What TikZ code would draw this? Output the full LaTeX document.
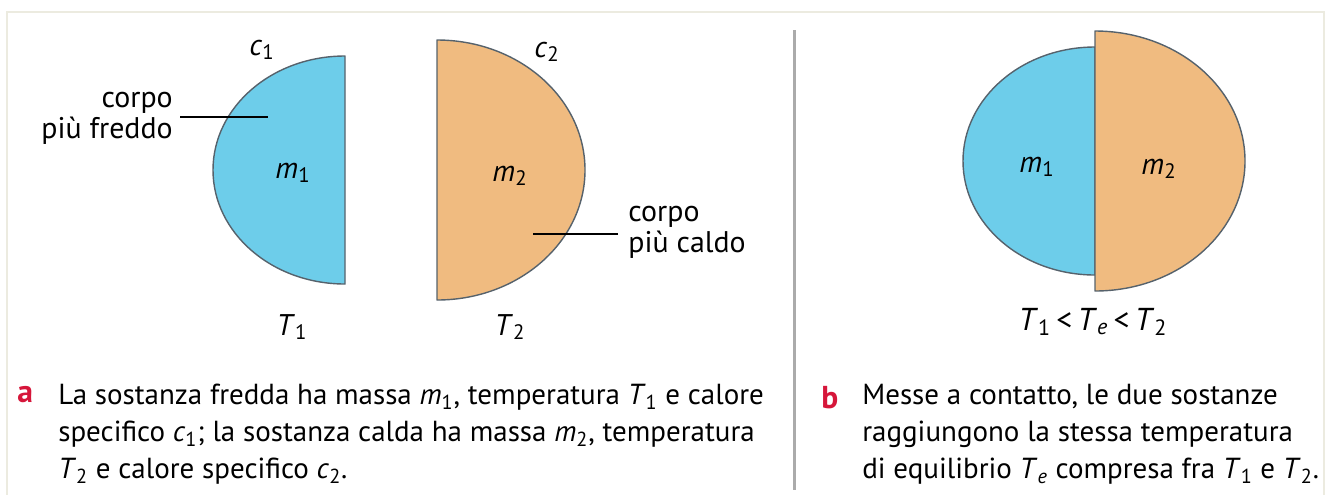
\documentclass[tikz,border=0pt]{standalone}
\usepackage{fontspec}
\setmainfont{PT Sans}
\usetikzlibrary{positioning}
\definecolor{hccold}{HTML}{6DCDEA}
\definecolor{hchot}{HTML}{F0BB80}
\definecolor{hcedge}{HTML}{56626C}
\definecolor{hcred}{HTML}{D6163A}
\definecolor{hcsep}{HTML}{ABABAB}
\definecolor{hcframe}{HTML}{ECEBE0}
\newcommand\varsub[2]{\textit{#1}\textsubscript{#2}}

\begin{document}
\begin{tikzpicture}[x=0.2mm,y=-0.2mm,
 body/.style={draw=hcedge,line width=0.8pt,line join=round},
 lbl/.style={font=\fontsize{17}{17.5}\selectfont,inner sep=0pt,align=left},
 sym/.style={font=\fontsize{17}{18}\selectfont,inner sep=0pt},
 caption/.style={font=\fontsize{16.5}{21}\selectfont,align=left,inner sep=0pt,anchor=north west},
 tag/.style={font=\fontsize{18}{18}\selectfont\bfseries,text=hcred,inner sep=0pt,anchor=north west},
 leader/.style={line width=0.7pt}
]
\useasboundingbox (0,0) rectangle (1328,495);
% frame and separator
\draw[hcframe,line width=1.2pt] (7,495) -- (7,12) -- (1324,12) -- (1324,495);
\draw[hcsep,line width=1.7pt] (794,30) -- (794,490);

% panel a: the two bodies apart
\draw[body,fill=hccold] (345,56) arc[start angle=-90,end angle=-270,x radius=132,y radius=114] -- cycle;
\draw[body,fill=hchot] (437,40) arc[start angle=-90,end angle=90,x radius=148,y radius=130] -- cycle;
\node[sym] (ca) at (262,50) {\varsub{c}{1}};
\node[sym] (cb) at (547,52) {\varsub{c}{2}};
\node[sym] (ma) at (293,173) {\varsub{m}{1}};
\node[sym] (mb) at (510,176) {\varsub{m}{2}};
\node[sym] (ta) at (292,327) {\varsub{T}{1}};
\node[sym] (tb) at (510,327) {\varsub{T}{2}};
\node[lbl,align=right,anchor=east] (cold) at (173,118) {corpo\\più freddo};
\node[lbl,anchor=west] (hot) at (628,232) {corpo\\più caldo};
\coordinate (coldtip) at (268,117);
\coordinate (hottip) at (533,234);
\coordinate (coldfoot) at ([xshift=1.4mm]cold.east |- coldtip);
\draw[leader] (coldfoot) -- (coldtip);
\coordinate (hotfoot) at ([xshift=-2mm]hot.west |- hottip);
\draw[leader] (hotfoot) -- (hottip);

% panel b: the two bodies in contact
\draw[body,fill=hccold] (1095,47) arc[start angle=-90,end angle=-270,x radius=132,y radius=114] -- cycle;
\draw[body,fill=hchot] (1095,31) arc[start angle=-90,end angle=90,x radius=150,y radius=130] -- cycle;
\node[sym] (mc) at (1037,167) {\varsub{m}{1}};
\node[sym] (md) at (1159,169) {\varsub{m}{2}};
\node[sym,font=\fontsize{18}{18}\selectfont] (te) at (1093,322) {\varsub{T}{1}\,<\,\varsub{T}{\textit{e}}\,<\,\varsub{T}{2}};

% captions
\node[tag] (taga) at (17,386) {a};
\node[caption] (capa) at (58,384) {La sostanza fredda ha massa \varsub{m}{1}, temperatura \varsub{T}{1} e calore\\
 specifico \varsub{c}{1}; la sostanza calda ha massa \varsub{m}{2}, temperatura\\
 \varsub{T}{2} e calore specifico \varsub{c}{2}.};
\node[tag] (tagb) at (821,386) {b};
\node[caption] (capb) at (862,384) {Messe a contatto, le due sostanze\\
 raggiungono la stessa temperatura\\
 di equilibrio \varsub{T}{\textit{e}} compresa fra \varsub{T}{1} e \varsub{T}{2}.};
\end{tikzpicture}
\end{document}
